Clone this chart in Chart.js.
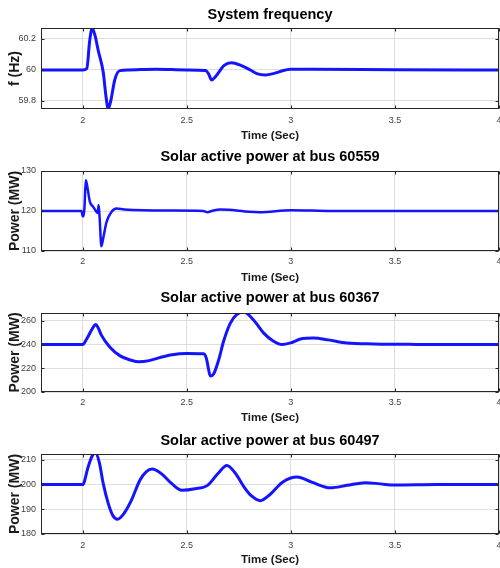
<!DOCTYPE html>
<html>
<head>
<meta charset="utf-8">
<script src="https://cdn.jsdelivr.net/npm/chart.js@4.4.1/dist/chart.umd.min.js"></script>
<style>
  body { margin: 0; background: #fff; }
  #wrap { position: relative; width: 500px; height: 568px; }
  canvas { position: absolute; left: 0; }
</style>
</head>
<body>
<div id="wrap">
  <canvas id="c1"></canvas>
  <canvas id="c2"></canvas>
  <canvas id="c3"></canvas>
  <canvas id="c4"></canvas>
</div>
<script>
// tick labels
const timeTicks = [2, 2.5, 3, 3.5, 4];
const freqTicks = [59.8, 60, 60.2];
const bus60559Ticks = [110, 120, 130];
const bus60367Ticks = [200, 220, 240, 260];
const bus60497Ticks = [180, 190, 200, 210];

// system frequency (Hz)
const freqT = [1.8, 2.0, 2.02, 2.034, 2.046, 2.06, 2.075, 2.099, 2.112, 2.123, 2.135, 2.155, 2.179, 2.22, 2.35, 2.5, 2.59, 2.605, 2.62, 2.64, 2.68, 2.715, 2.76, 2.805, 2.84, 2.877, 2.92, 2.96, 3.0, 3.1, 3.5, 4.0];
const freqV = [60, 60, 60.01, 60.19, 60.27, 60.22, 60.125, 59.985, 59.83, 59.75, 59.80, 59.94, 59.996, 60.0, 60.005, 60.0, 59.997, 59.975, 59.935, 59.96, 60.03, 60.047, 60.03, 60.0, 59.975, 59.968, 59.978, 59.995, 60.004, 60.005, 60.002, 60.0];

// solar active power at bus 60559 (MW)
const bus60559T = [1.8, 1.995, 2.0, 2.005, 2.009, 2.015, 2.021, 2.035, 2.05, 2.066, 2.072, 2.077, 2.082, 2.09, 2.1, 2.115, 2.139, 2.163, 2.2, 2.4, 2.58, 2.6, 2.62, 2.66, 2.7, 2.8, 2.85, 3.0, 3.2, 4.0];
const bus60559V = [120, 120, 118.7, 118.7, 121, 127.7, 126.5, 122.3, 121.1, 119.8, 119.5, 121.5, 118, 111.2, 113.5, 117.3, 119.8, 120.6, 120.4, 120.1, 120, 119.7, 120, 120.4, 120.3, 119.8, 119.7, 120.2, 120, 120];

// solar active power at bus 60367 (MW)
const bus60367T = [1.8, 2.0, 2.02, 2.045, 2.063, 2.075, 2.09, 2.13, 2.18, 2.23, 2.27, 2.32, 2.37, 2.43, 2.5, 2.581, 2.595, 2.605, 2.613, 2.63, 2.655, 2.677, 2.709, 2.741, 2.773, 2.821, 2.87, 2.917, 2.958, 3.0, 3.046, 3.11, 3.18, 3.27, 3.4, 3.6, 4.0];
const bus60367V = [240, 240, 245, 253, 257, 254, 248, 238, 230.5, 227, 225.5, 226.5, 229, 231.5, 232.5, 232.2, 228, 219, 213.6, 215.5, 228, 242.8, 258, 265.5, 267.5, 260.8, 249.7, 242.8, 240, 241.5, 244.7, 245.6, 244, 241.4, 240.6, 240.2, 240];

// solar active power at bus 60497 (MW)
const bus60497T = [1.8, 2.0, 2.026, 2.045, 2.062, 2.08, 2.099, 2.123, 2.145, 2.167, 2.2, 2.235, 2.275, 2.305, 2.334, 2.38, 2.427, 2.477, 2.54, 2.6, 2.65, 2.693, 2.73, 2.78, 2.81, 2.853, 2.9, 2.96, 3.03, 3.1, 3.19, 3.27, 3.358, 3.43, 3.5, 3.7, 4.0];
const bus60497V = [200, 200, 207, 211.5, 212.8, 209, 200.4, 192.4, 187.5, 186, 188.5, 193.8, 201.8, 205.2, 206.3, 204.3, 200.5, 197.7, 198.3, 199.7, 204.5, 207.7, 205, 198.5, 195.5, 193.5, 196, 201, 203.1, 201, 198.7, 199.7, 200.8, 200.3, 199.8, 200, 200];

const FONT = "'Liberation Sans', Arial, sans-serif";

// dark frame round the plot area, with small inward ticks like matlab
const framePlugin = {
  id: 'frame',
  afterDraw(chart) {
    const a = chart.chartArea, ctx = chart.ctx;
    const L = Math.round(a.left) + 0.5, R = Math.round(a.right) - 0.5;
    const T = Math.round(a.top) + 0.5, B = Math.round(a.bottom) - 0.5;
    ctx.save();
    ctx.strokeStyle = '#262626';
    ctx.lineWidth = 1;
    ctx.strokeRect(L, T, R - L, B - T);
    ctx.beginPath();
    chart.scales.x.ticks.forEach(t => {
      const x = Math.round(chart.scales.x.getPixelForValue(t.value)) + 0.5;
      ctx.moveTo(x, T); ctx.lineTo(x, T + 3);
      ctx.moveTo(x, B); ctx.lineTo(x, B - 3);
    });
    chart.scales.y.ticks.forEach(t => {
      const y = Math.round(chart.scales.y.getPixelForValue(t.value)) + 0.5;
      ctx.moveTo(L, y); ctx.lineTo(L + 3, y);
      ctx.moveTo(R, y); ctx.lineTo(R - 3, y);
    });
    ctx.stroke();
    ctx.restore();
  }
};

function makePanel(id, p) {
  const cv = document.getElementById(id);
  const h = p.labelY + 9 - p.top;
  cv.style.top = p.top + 'px';
  cv.width = 500; cv.height = h;
  cv.style.width = '500px'; cv.style.height = h + 'px';

  const pts = p.t.map((x, i) => ({x: x, y: p.v[i]}));
  return new Chart(cv.getContext('2d'), {
    type: 'line',
    data: {
      datasets: [{
        data: pts,
        borderColor: '#1414ff',
        borderWidth: p.lw,
        pointRadius: 0,
        cubicInterpolationMode: 'monotone',
        fill: false
      }]
    },
    options: {
      responsive: false,
      animation: false,
      events: [],
      layout: { padding: { left: 0, right: 1, top: 0, bottom: 0 } },
      plugins: {
        legend: { display: false },
        tooltip: { enabled: false },
        title: {
          display: true,
          text: p.title,
          fullSize: false,
          color: '#000',
          font: { family: FONT, size: 14.5, weight: 'bold' },
          padding: { top: p.titleY - p.top - 8.7, bottom: p.areaTop - p.titleY - 8.7 }
        }
      },
      scales: {
        x: {
          type: 'linear',
          min: 1.8, max: 4,
          afterBuildTicks: s => { s.ticks = timeTicks.map(v => ({value: v})); },
          afterFit: s => {
            s.height = h - (p.areaBottom - p.top);
            s.paddingRight = 0;
            s.paddingLeft = 0;
          },
          grid: { color: '#dedede', drawTicks: false },
          border: { display: false },
          ticks: {
            padding: p.tickY - 5.5 - p.areaBottom,
            color: '#404040',
            font: { family: FONT, size: 9 },
            maxRotation: 0,
            callback: v => String(v)
          },
          title: {
            display: true,
            text: 'Time (Sec)',
            color: '#1a1a1a',
            font: { family: FONT, size: 11.5, weight: 'bold' },
            padding: { top: 0, bottom: 2 }
          }
        },
        y: {
          min: p.ymin, max: p.ymax,
          afterBuildTicks: s => { s.ticks = p.yTicks.map(v => ({value: v})); },
          afterFit: s => { s.width = 41; },
          grid: { color: '#dedede', drawTicks: false },
          border: { display: false },
          ticks: {
            padding: 5,
            color: '#404040',
            font: { family: FONT, size: 9 },
            callback: v => String(v)
          },
          title: {
            display: true,
            text: p.ylabel,
            color: '#1a1a1a',
            font: { family: FONT, size: 14, weight: 'bold' },
            padding: { top: 6.5, bottom: 0 }
          }
        }
      }
    },
    plugins: [framePlugin]
  });
}

makePanel('c1', { top: 0, titleY: 15, areaTop: 28, areaBottom: 109, tickY: 121, labelY: 136,
  title: 'System frequency', ylabel: 'f (Hz)', t: freqT, v: freqV, yTicks: freqTicks,
  ymin: 59.748, ymax: 60.271, lw: 3 });
makePanel('c2', { top: 142, titleY: 157, areaTop: 171, areaBottom: 251, tickY: 262, labelY: 278,
  title: 'Solar active power at bus 60559', ylabel: 'Power (MW)', t: bus60559T, v: bus60559V,
  yTicks: bus60559Ticks, ymin: 110, ymax: 130, lw: 2.5 });
makePanel('c3', { top: 284, titleY: 298, areaTop: 313, areaBottom: 392, tickY: 403, labelY: 418,
  title: 'Solar active power at bus 60367', ylabel: 'Power (MW)', t: bus60367T, v: bus60367V,
  yTicks: bus60367Ticks, ymin: 200, ymax: 266.7, lw: 3 });
makePanel('c4', { top: 426, titleY: 441, areaTop: 454, areaBottom: 534, tickY: 546, labelY: 560,
  title: 'Solar active power at bus 60497', ylabel: 'Power (MW)', t: bus60497T, v: bus60497V,
  yTicks: bus60497Ticks, ymin: 180, ymax: 212.4, lw: 3 });
</script>
</body>
</html>
